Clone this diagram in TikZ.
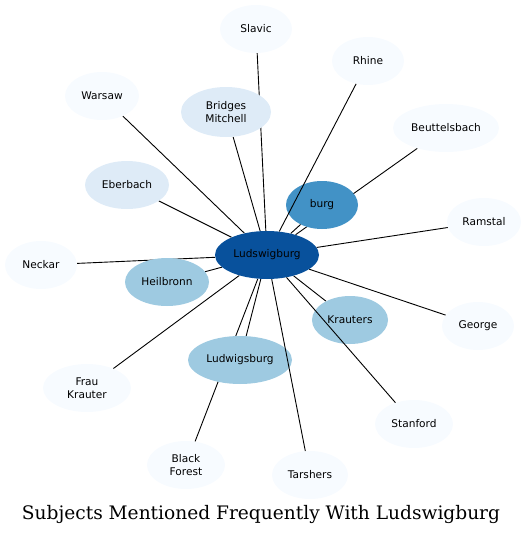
\documentclass[tikz,border=0pt]{standalone}
\usepackage{fontspec}
\setmainfont{DejaVu Sans}
\newfontfamily\titlefont{DejaVu Serif}
\usepackage{xcolor}
\definecolor{pale}{HTML}{F7FBFF}
\definecolor{light}{HTML}{DEEBF7}
\definecolor{mid}{HTML}{9ECAE1}
\definecolor{strong}{HTML}{4292C6}
\definecolor{deep}{HTML}{08519C}
\usepackage{tikz}
\usetikzlibrary{shapes.geometric, backgrounds}

\begin{document}
\begin{tikzpicture}[x=1pt, y=-1pt,
  bubble/.style={ellipse, draw=none, inner sep=0pt, align=center,
                 minimum height=48pt, font=\fontsize{10.6}{12.5}\selectfont},
  link/.style={draw=black, line width=0.9pt}]

  \useasboundingbox (0,0) rectangle (528,535);

  % hub
  \node[bubble, fill=deep, minimum width=104pt] (hub) at (267,255) {Ludswigburg};

  % outer subjects
  \node[bubble, fill=pale, minimum width=72pt] (slavic) at (256,29) {Slavic};
  \node[bubble, fill=pale, minimum width=72pt] (rhine) at (368,61) {Rhine};
  \node[bubble, fill=pale, minimum width=74pt] (warsaw) at (102,96) {Warsaw};
  \node[bubble, fill=light, minimum width=90pt, minimum height=50pt] (bridges) at (226,112) {Bridges\\Mitchell};
  \node[bubble, fill=pale, minimum width=106pt] (beut) at (446,128) {Beuttelsbach};
  \node[bubble, fill=light, minimum width=84pt] (eberbach) at (127,185) {Eberbach};
  \node[bubble, fill=strong, minimum width=72pt] (burg) at (322,205) {burg};
  \node[bubble, fill=pale, minimum width=74pt] (ramstal) at (484,222) {Ramstal};
  \node[bubble, fill=pale, minimum width=72pt] (neckar) at (41,265) {Neckar};
  \node[bubble, fill=mid, minimum width=84pt] (heilbronn) at (167,282) {Heilbronn};
  \node[bubble, fill=mid, minimum width=76pt] (krauters) at (350,320) {Krauters};
  \node[bubble, fill=pale, minimum width=72pt] (george) at (478,326) {George};
  \node[bubble, fill=mid, minimum width=104pt] (ludwigs) at (240,360) {Ludwigsburg};
  \node[bubble, fill=pale, minimum width=88pt] (frau) at (87,388) {Frau\\Krauter};
  \node[bubble, fill=pale, minimum width=78pt] (stanford) at (414,424) {Stanford};
  \node[bubble, fill=pale, minimum width=78pt] (forest) at (186,465) {Black\\Forest};
  \node[bubble, fill=pale, minimum width=76pt] (tarshers) at (310,475) {Tarshers};

  % edges behind the bubbles
  \begin{pgfonlayer}{background}
    \foreach \n in {slavic, warsaw, bridges, beut, eberbach, burg, ramstal,
                    neckar, heilbronn, krauters, george, ludwigs, frau, forest}
      \draw[link] (hub) -- (\n);
  \end{pgfonlayer}

  % edges that run over other bubbles
  \foreach \n in {rhine, stanford, tarshers}
    \draw[link] (hub) -- (\n);

  \node[font=\titlefont\fontsize{18.6}{20}\selectfont] (title) at (261,514)
    {Subjects Mentioned Frequently With Ludswigburg};

\end{tikzpicture}
\end{document}
